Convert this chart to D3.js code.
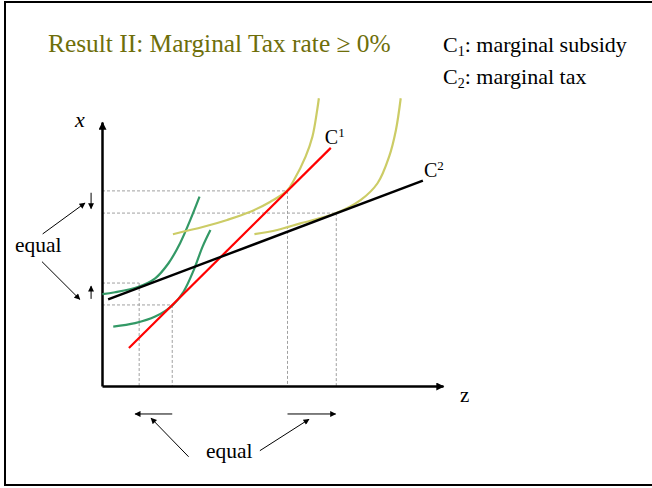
<!DOCTYPE html>
<html>
<head>
<meta charset="utf-8">
<script src="https://cdn.jsdelivr.net/npm/d3@7"></script>
<style>
  body { margin: 0; background: #fff; }
  svg { display: block; font-family: "Liberation Serif", "Times New Roman", serif; }
</style>
</head>
<body>
<div id="chart"></div>
<script>
// values in chart units: z runs along the bottom axis, x up the side (0..100)
var lineC1 = [[7.9, 14.4], [67.1, 90.2]];
var lineC2 = [[1.8, 32.8], [94.1, 77.8]];

// indifference curves
var greenA = [[0.1, 34.8], [3.8, 35.5], [10.7, 37.6], [15.6, 40.8], [19.5, 46.5], [22.9, 54.1], [25.9, 62.9], [28.6, 71.7]];
var greenB = [[3.3, 22.5], [9.7, 23.8], [15.6, 26.3], [20.8, 30.7], [23.9, 35.7], [26.9, 43.9], [29.5, 52.8], [31.8, 59.1]];
var yellowA = [[20.8, 57.5], [29.8, 60.3], [36.7, 62.9], [43.5, 66.0], [49.4, 69.8], [54.3, 74.0], [56.3, 78.0], [59.7, 86.9], [61.7, 94.4], [63.1, 104.5], [63.6, 109.0]];
var yellowB = [[44.7, 57.5], [51.4, 59.1], [58.2, 61.6], [68.5, 65.4], [75.9, 70.5], [80.8, 76.8], [84.2, 86.9], [86.2, 97.0], [87.6, 109.0]];

// tangency points -> dashed guides
var guideZ = [10.9, 20.6, 54.4, 68.7];
var guideX = [39.0, 30.7, 73.9, 65.5];

// "equal" annotation arrows [from, to]
var markArrows = [
  [[-3.2, 73.2], [-3.2, 67.2]],
  [[-3.2, 33.0], [-3.2, 37.8]],
  [[20.6, -10.6], [9.7, -10.6]],
  [[54.4, -10.6], [68.5, -10.6]]
];
var pointerArrows = [
  [[-17.4, 57.6], [-5.0, 69.3]],
  [[-17.6, 47.1], [-6.5, 32.8]],
  [[25.4, -26.8], [14.4, -12.2]],
  [[46.3, -24.5], [60.7, -12.6]]
];

var width = 652, height = 488;

var svg = d3.select("#chart").append("svg")
    .attr("width", width)
    .attr("height", height);

// slide frame
svg.append("rect")
    .attr("x", 5).attr("y", 2)
    .attr("width", 680).attr("height", 483)
    .attr("fill", "none")
    .attr("stroke", "#000")
    .attr("stroke-width", 2);

var defs = svg.append("defs");
function addHead(id, w, h) {
    defs.append("marker")
        .attr("id", id)
        .attr("viewBox", "0 0 10 10")
        .attr("refX", 9).attr("refY", 5)
        .attr("markerWidth", w).attr("markerHeight", h)
        .attr("markerUnits", "userSpaceOnUse")
        .attr("orient", "auto")
        .append("path")
        .attr("d", "M0,0L10,5L0,10z")
        .attr("fill", "#000");
}
addHead("axisHead", 10, 8);
addHead("smallHead", 7, 6);

var z = d3.scaleLinear().domain([0, 100]).range([102, 443]);
var x = d3.scaleLinear().domain([0, 100]).range([386, 122]);

// dashed guides
var guides = d3.range(guideZ.length);
svg.selectAll(".hguide").data(guides).enter().append("line")
    .attr("x1", z(0)).attr("x2", function(i) { return z(guideZ[i]); })
    .attr("y1", function(i) { return x(guideX[i]); })
    .attr("y2", function(i) { return x(guideX[i]); })
    .attr("stroke", "#a0a0a0").attr("stroke-width", 1)
    .attr("stroke-dasharray", "3,2");
svg.selectAll(".vguide").data(guides).enter().append("line")
    .attr("x1", function(i) { return z(guideZ[i]); })
    .attr("x2", function(i) { return z(guideZ[i]); })
    .attr("y1", function(i) { return x(guideX[i]); })
    .attr("y2", x(0))
    .attr("stroke", "#a0a0a0").attr("stroke-width", 1)
    .attr("stroke-dasharray", "3,2");

// axes (no ticks, arrow at end)
var xAxisG = svg.append("g")
    .attr("transform", "translate(0," + x(0) + ")")
    .call(d3.axisBottom(z).tickValues([]).tickSizeOuter(0));
xAxisG.select(".domain")
    .attr("stroke-width", 2.5)
    .attr("marker-end", "url(#axisHead)");

var yAxisG = svg.append("g")
    .attr("transform", "translate(" + z(0) + ",0)")
    .call(d3.axisLeft(x).tickValues([]).tickSizeOuter(0));
yAxisG.select(".domain")
    .attr("stroke-width", 2.5)
    .attr("marker-end", "url(#axisHead)");

var line = d3.line()
    .x(function(d) { return z(d[0]); })
    .y(function(d) { return x(d[1]); });
var curve = d3.line()
    .x(function(d) { return z(d[0]); })
    .y(function(d) { return x(d[1]); })
    .curve(d3.curveCatmullRom.alpha(0.5));

[[greenA, "#339966"], [greenB, "#339966"], [yellowA, "#cccc66"], [yellowB, "#cccc66"]].forEach(function(c) {
    svg.append("path")
        .attr("d", curve(c[0]))
        .attr("fill", "none")
        .attr("stroke", c[1])
        .attr("stroke-width", 2.2);
});

svg.append("path").attr("d", line(lineC1))
    .attr("stroke", "#ff0000").attr("stroke-width", 2.2).attr("fill", "none");
svg.append("path").attr("d", line(lineC2))
    .attr("stroke", "#000").attr("stroke-width", 2.4).attr("fill", "none");

// annotation arrows
svg.selectAll(".mark").data(markArrows.concat(pointerArrows)).enter().append("path")
    .attr("d", line)
    .attr("stroke", "#000").attr("stroke-width", 1).attr("fill", "none")
    .attr("marker-end", "url(#smallHead)");

// texts
svg.append("text")
    .attr("x", 48).attr("y", 52)
    .attr("fill", "#6e6e0a")
    .style("font-size", "25.4px")
    .text("Result II: Marginal Tax rate \u2265 0%");

var legend = [["1", ": marginal subsidy", 52], ["2", ": marginal tax", 84]];
legend.forEach(function(l) {
    var t = svg.append("text").attr("x", 443).attr("y", l[2]).style("font-size", "22px");
    t.append("tspan").text("C");
    t.append("tspan").attr("dy", 4).style("font-size", "14px").text(l[0]);
    t.append("tspan").attr("dy", -4).text(l[1]);
});

function curveLabel(px, py, sup) {
    var t = svg.append("text").attr("x", px).attr("y", py).style("font-size", "20px");
    t.append("tspan").text("C");
    t.append("tspan").attr("dy", -7).style("font-size", "13px").text(sup);
}
curveLabel(z(lineC1[1][0]) - 6, x(lineC1[1][1]) - 4, "1");
curveLabel(z(lineC2[1][0]) + 1, x(lineC2[1][1]) - 4, "2");

svg.append("text").attr("x", 75).attr("y", 127)
    .style("font-size", "22px").style("font-style", "italic").text("x");
svg.append("text").attr("x", 460).attr("y", 402)
    .style("font-size", "21px").text("z");

svg.append("text").attr("x", 15).attr("y", 252)
    .style("font-size", "21.5px").text("equal");
svg.append("text").attr("x", 206).attr("y", 458)
    .style("font-size", "21.5px").text("equal");
</script>
</body>
</html>
